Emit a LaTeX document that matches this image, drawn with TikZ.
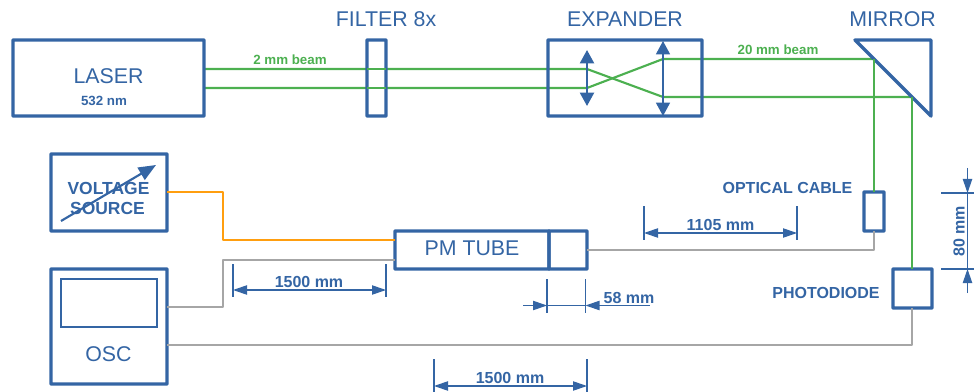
\documentclass[tikz,border=0pt]{standalone}
\usepackage{fontspec}
\setmainfont{Liberation Sans}
\usetikzlibrary{arrows.meta}
\definecolor{bl}{HTML}{3465A4}
\definecolor{gr}{HTML}{4CB050}
\definecolor{orn}{HTML}{FF9E0F}
\definecolor{gy}{HTML}{A6A6A6}
\newcommand{\boxnode}[5]{\node[unit,minimum width=#4*0.75pt,minimum height=#5*0.75pt] (#1) at (#2,#3) {};}
\tikzset{
  unit/.style={draw=bl,line width=2.6pt,rounded corners=0.5pt,inner sep=0pt,outer sep=0pt,rectangle},
  big/.style={text=bl,font=\fontsize{16}{19}\selectfont,inner sep=0pt},
  lab/.style={text=bl,font=\fontsize{12}{14}\selectfont\bfseries,inner sep=0pt},
  beamlab/.style={text=gr,font=\fontsize{10}{12}\selectfont\bfseries,inner sep=0pt},
  beam/.style={draw=gr,line width=1.6pt},
  wireg/.style={draw=gy,line width=1.7pt,line join=round},
  wireo/.style={draw=orn,line width=1.7pt,line join=round},
  tick/.style={draw=bl,line width=0.85pt},
  dim/.style={draw=bl,line width=0.85pt},
  dimtip/.style={-{Triangle[length=10.5pt,width=7pt]}},
  lens/.style={draw=bl,{Triangle[length=10pt,width=10.5pt]}-{Triangle[length=10pt,width=10.5pt]}},
}
\begin{document}
\begin{tikzpicture}[x=0.75pt,y=-0.75pt]
\useasboundingbox (0,0) rectangle (974,392);
% beam coordinates
\coordinate (b1a) at (205,69);
\coordinate (b2a) at (205,88);
\coordinate (l1t) at (587,69);
\coordinate (l1b) at (587,88);
\coordinate (l2t) at (663,59);
\coordinate (l2b) at (663,97);
\coordinate (m1) at (874,59);
\coordinate (m2) at (912,97);
\coordinate (l1u) at (587,50);
\coordinate (l1d) at (587,106);
\coordinate (l2u) at (663,41);
\coordinate (l2d) at (663,116);
% green beams
\draw[beam] (b1a) -- (l1t) -- (l2b) -- (m2);
\draw[beam] (b2a) -- (l1b) -- (l2t) -- (m1);
% boxes
\boxnode{laser}{108.5}{78}{191}{76}
\node[unit,fill=white,minimum width=19*0.75pt,minimum height=76*0.75pt] (filter) at (376.5,78) {};
\draw[beam] (filter.west |- b1a) -- (filter.east |- b1a);
\draw[beam] (filter.west |- b2a) -- (filter.east |- b2a);
\boxnode{expander}{625}{78}{154}{76}
\boxnode{voltage}{109}{192.5}{116}{77}
\boxnode{osc}{109}{326.5}{116}{115}
\node[draw=bl,line width=1.6pt,inner sep=0pt,minimum width=96*0.75pt,minimum height=48*0.75pt] (screen) at (109,303) {};
\boxnode{pm}{472}{250}{154}{38}
\boxnode{pmend}{568}{250}{38}{38}
\boxnode{cable}{874}{211.5}{20}{39}
\boxnode{diode}{912.5}{288.5}{39}{39}
% mirror
\coordinate (ma) at (855,40);
\coordinate (mb) at (931,40);
\coordinate (mc) at (931,116);
\draw[draw=bl,line width=2.6pt,line join=round] (ma) -- (mb) -- (mc) -- cycle;
% green down
\draw[beam] (m1) -- (cable.north);
\draw[beam] (m2) -- (m2 |- diode.north);
% lenses
\draw[lens,line width=1.6pt] (l1u) -- (l1d);
\draw[lens,line width=1pt] (l2u) -- (l2d);
% wires
\coordinate (o1) at (223,192);
\coordinate (o2) at (223,240);
\coordinate (p0) at (395,240);
\draw[wireo] (voltage.east |- o1) -- (o1) -- (o2) -- (p0);
\coordinate (g1) at (167,307);
\coordinate (g2) at (223,307);
\coordinate (g3) at (223,260);
\coordinate (g4) at (395,260);
\draw[wireg] (g1) -- (g2) -- (g3) -- (g4);
\draw[wireg] (pmend.east) -- (cable.south |- pmend.east) -- (cable.south);
\coordinate (g5) at (167,345);
\draw[wireg] (g5) -- (m2 |- g5) -- (m2 |- diode.south);
% voltage arrow
\coordinate (va) at (61,221);
\coordinate (vb) at (156,165);
\draw[draw=bl,line width=1.6pt,-{Triangle[length=13pt,width=10.5pt]}] (va) -- (vb);
% dims: 1500 top
\coordinate (d1a) at (233,264); \coordinate (d1b) at (233,297);
\coordinate (d2a) at (386,264); \coordinate (d2b) at (386,297);
\draw[tick] (d1a) -- (d1b);
\draw[tick] (d2a) -- (d2b);
\coordinate (d1l) at (233,290); \coordinate (d1r) at (386,290);
\draw[dim,{Triangle[length=10.5pt,width=7pt]}-{Triangle[length=10.5pt,width=7pt]}] (d1l) -- (d1r);
% 1105
\coordinate (e1a) at (644,206); \coordinate (e1b) at (644,240);
\coordinate (e2a) at (797,206); \coordinate (e2b) at (797,240);
\draw[tick] (e1a) -- (e1b);
\draw[tick] (e2a) -- (e2b);
\coordinate (e1l) at (644,233); \coordinate (e1r) at (797,233);
\draw[dim,{Triangle[length=10.5pt,width=7pt]}-{Triangle[length=10.5pt,width=7pt]}] (e1l) -- (e1r);
% 58
\coordinate (f1a) at (547,279); \coordinate (f1b) at (547,313);
\coordinate (f2a) at (585.5,279); \coordinate (f2b) at (585.5,313);
\draw[tick] (f1a) -- (f1b);
\draw[tick] (f2a) -- (f2b);
\coordinate (f0) at (523,305.5); \coordinate (f1) at (547,305.5);
\coordinate (f2) at (585.5,305.5); \coordinate (f3) at (650,305.5);
\draw[dim,dimtip] (f0) -- (f1);
\draw[dim,dimtip] (f3) -- (f2);
\draw[dim] (f1) -- (f2);
% 80
\coordinate (h1a) at (941,193); \coordinate (h1b) at (974,193);
\coordinate (h2a) at (941,269); \coordinate (h2b) at (974,269);
\draw[tick] (h1a) -- (h1b);
\draw[tick] (h2a) -- (h2b);
\coordinate (h0) at (967.5,168); \coordinate (h1) at (967.5,193);
\coordinate (h2) at (967.5,269); \coordinate (h3) at (967.5,293);
\draw[dim,dimtip] (h0) -- (h1);
\draw[dim,dimtip] (h3) -- (h2);
\draw[dim] (h1) -- (h2);
% 1500 bottom
\coordinate (k1a) at (434,359); \coordinate (k1b) at (434,392);
\coordinate (k2a) at (587,359); \coordinate (k2b) at (587,392);
\draw[tick] (k1a) -- (k1b);
\draw[tick] (k2a) -- (k2b);
\coordinate (k1l) at (434,386); \coordinate (k1r) at (587,386);
\draw[dim,{Triangle[length=10.5pt,width=7pt]}-{Triangle[length=10.5pt,width=7pt]}] (k1l) -- (k1r);
% texts
\node[big] (tfilter) at (386,19.5) {FILTER 8x};
\node[big] (texp) at (625,19.5) {EXPANDER};
\node[big] (tmir) at (892.5,19.5) {MIRROR};
\node[big] (tlaser) at (108.5,76) {LASER};
\node[text=bl,font=\fontsize{10}{12}\selectfont\bfseries,inner sep=0pt] (tnm) at (104,100.5) {532 nm};
\node[beamlab] (t2mm) at (290,59.5) {2 mm beam};
\node[beamlab] (t20mm) at (778,49.5) {20 mm beam};
\node[text=bl,font=\fontsize{13.1}{15}\selectfont\bfseries,inner sep=0pt] (tv) at (108.5,188) {VOLTAGE};
\node[text=bl,font=\fontsize{13.1}{15}\selectfont\bfseries,inner sep=0pt] (ts) at (107.5,208) {SOURCE};
\node[big] (tpm) at (472,248) {PM TUBE};
\node[big] (tosc) at (108.5,354) {OSC};
\node[lab] (topt) at (787.5,187.5) {OPTICAL CABLE};
\node[lab] (tph) at (826,292.5) {PHOTODIODE};
\node[lab] (t1500a) at (309,282) {1500 mm};
\node[lab] (t1105) at (720.5,224.5) {1105 mm};
\node[lab] (t58) at (629,297.5) {58 mm};
\node[lab] (t1500b) at (510,377.5) {1500 mm};
\node[lab,rotate=90] (t80) at (959,231.5) {80 mm};
\end{tikzpicture}
\end{document}
